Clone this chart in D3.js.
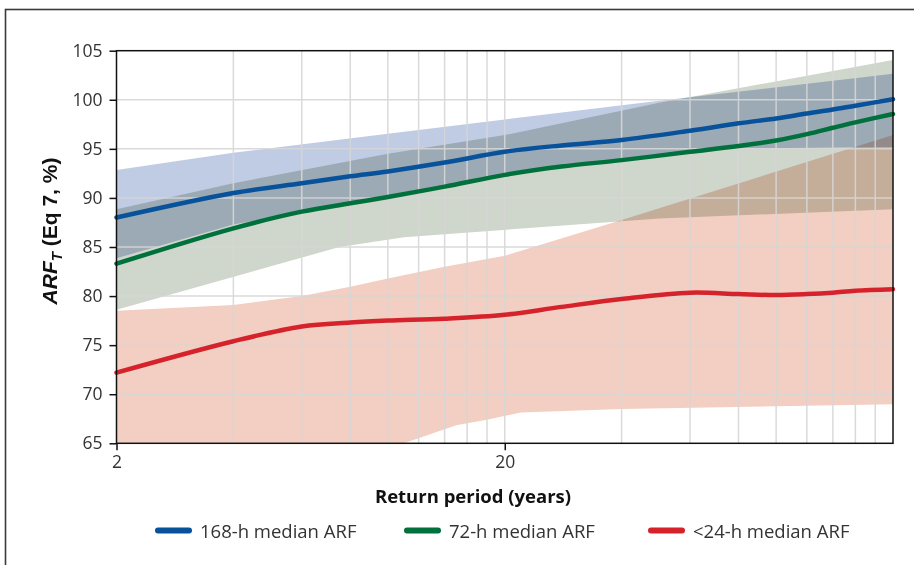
<!DOCTYPE html>
<html>
<head>
<meta charset="utf-8">
<script src="https://cdn.jsdelivr.net/npm/d3@7/dist/d3.min.js"></script>
<style>
  html, body { margin: 0; padding: 0; background: #fff; }
  svg { display: block; }
</style>
</head>
<body>
<svg id="chart" width="914" height="565"></svg>
<script>
// ---------------- DATA ----------------
const returnPeriods = [2, 4, 6, 8, 10, 14, 20, 28, 40, 60, 80, 100, 120, 140, 160, 200];
const median168 = [88.0, 90.5, 91.5, 92.2, 92.7, 93.6, 94.7, 95.35, 95.9, 96.85, 97.6, 98.1, 98.6, 99.0, 99.4, 100.05];
const median72  = [83.3, 86.9, 88.6, 89.45, 90.1, 91.15, 92.35, 93.2, 93.85, 94.7, 95.3, 95.85, 96.5, 97.15, 97.7, 98.55];
const median24  = [72.2, 75.4, 76.9, 77.3, 77.5, 77.7, 78.1, 78.9, 79.7, 80.35, 80.2, 80.1, 80.2, 80.35, 80.55, 80.7];

// uncertainty bands (upper / lower envelopes)
const band168UpperT = [2, 4, 10, 20, 50, 200];
const band168Upper  = [92.85, 94.6, 96.55, 98.0, 99.9, 102.65];
const band168LowerT = [2, 4, 6, 10, 20, 40, 60, 80, 200];
const band168Lower  = [83.85, 87.3, 88.6, 90.1, 92.35, 93.85, 94.75, 95.05, 95.2];

const band72UpperT = [2, 4, 10, 20, 50, 200];
const band72Upper  = [88.85, 91.5, 94.5, 96.4, 99.7, 104.05];
const band72LowerT = [2, 7.5, 11, 50, 200];
const band72Lower  = [78.6, 85.0, 86.0, 87.9, 88.85];

const band24UpperT = [2, 4, 6, 8, 10, 14, 20, 40, 200];
const band24Upper  = [78.5, 79.1, 80.0, 80.95, 81.8, 83.0, 84.1, 87.75, 96.4];
const band24LowerT = [2, 11, 15, 18, 22, 40, 200];
const band24Lower  = [58, 65, 66.85, 67.4, 68.15, 68.5, 68.97];

const yTicks = [65, 70, 75, 80, 85, 90, 95, 100, 105];
const xTicks = [2, 20];
const xGrid = [4, 6, 8, 10, 12, 14, 16, 18, 20, 40, 60, 80, 100, 120, 140, 160, 180];
const yGrid = [70, 75, 80, 85, 90, 95, 100];

const legendLabels = ["168-h median ARF", "72-h median ARF", "<24-h median ARF"];
const xTitle = "Return period (years)";

// ---------------- STYLE ----------------
const colors = { b168: "#07529a", b72: "#00703d", b24: "#d6222b" };
const bandColors = { b168: "#c0cbe4", b72: "#cfd6cb", b24: "#f2cfc2" };

// ---------------- LAYOUT ----------------
const svg = d3.select("#chart");
const L = 116.5, R = 893, T = 50.7, B = 443.3;

const x = d3.scaleLog().domain([2, 200]).range([L, R]);
const y = d3.scaleLinear().domain([65, 105]).range([B, T]);

svg.append("rect").attr("width", 914).attr("height", 565).attr("fill", "#fff");

// outer frame (runs off the right and bottom)
svg.append("rect")
  .attr("x", 5.5).attr("y", 9.5).attr("width", 1000).attr("height", 1000)
  .attr("fill", "none").attr("stroke", "#3a3a3a").attr("stroke-width", 1.6);

svg.append("defs").append("clipPath").attr("id", "plotclip")
  .append("rect").attr("x", L).attr("y", T).attr("width", R - L).attr("height", B - T);

const plot = svg.append("g").attr("clip-path", "url(#plotclip)");
const bandsG = plot.append("g").style("isolation", "isolate");

function bandPoly(upT, up, loT, lo) {
  const pts = upT.map((t, i) => [x(t), y(up[i])]);
  const low = loT.map((t, i) => [x(t), y(lo[i])]).reverse();
  return d3.line()(pts.concat(low)) + "Z";
}

const bands = [
  { key: "b168", d: bandPoly(band168UpperT, band168Upper, band168LowerT, band168Lower) },
  { key: "b72",  d: bandPoly(band72UpperT, band72Upper, band72LowerT, band72Lower) },
  { key: "b24",  d: bandPoly(band24UpperT, band24Upper, band24LowerT, band24Lower) }
];
bandsG.selectAll("path.band").data(bands).join("path")
  .attr("class", "band")
  .attr("d", d => d.d)
  .attr("fill", d => bandColors[d.key])
  .style("mix-blend-mode", "multiply");

// grid
const gridG = plot.append("g").attr("stroke", "#d6d6d6").attr("stroke-width", 1.5).attr("opacity", 0.9);
gridG.selectAll("line.v").data(xGrid).join("line")
  .attr("x1", d => x(d)).attr("x2", d => x(d)).attr("y1", T).attr("y2", B);
gridG.selectAll("line.h").data(yGrid).join("line")
  .attr("y1", d => y(d)).attr("y2", d => y(d)).attr("x1", L).attr("x2", R);

// median lines
const line = d3.line().x(d => x(d[0])).y(d => y(d[1])).curve(d3.curveCatmullRom.alpha(0.5));
const series = [
  { key: "b24", vals: median24 },
  { key: "b72", vals: median72 },
  { key: "b168", vals: median168 }
];
svg.append("g").selectAll("path.med").data(series).join("path")
  .attr("class", "med")
  .attr("d", s => line(returnPeriods.map((t, i) => [t, s.vals[i]])))
  .attr("fill", "none")
  .attr("stroke", s => colors[s.key])
  .attr("stroke-width", 4.5)
  .attr("stroke-linecap", "round")
  .attr("stroke-linejoin", "round");

// plot frame
svg.append("rect").attr("x", L).attr("y", T).attr("width", R - L).attr("height", B - T)
  .attr("fill", "none").attr("stroke", "#111").attr("stroke-width", 1.5);

// axes
const yAxis = svg.append("g").attr("transform", `translate(${L},0)`)
  .call(d3.axisLeft(y).tickValues(yTicks).tickSize(7).tickPadding(7));
const xAxis = svg.append("g").attr("transform", `translate(0,${B})`)
  .call(d3.axisBottom(x).tickValues(xTicks).tickFormat(d3.format("d")).tickSize(7).tickPadding(5));
[yAxis, xAxis].forEach(g => {
  g.select(".domain").remove();
  g.selectAll(".tick line").attr("stroke", "#111").attr("stroke-width", 1.5);
  g.selectAll(".tick text")
    .attr("fill", "#333")
    .style("font-family", "'Open Sans', sans-serif")
    .style("font-size", "17.5px");
});

// x title
svg.append("text")
  .attr("x", 473).attr("y", 503)
  .attr("text-anchor", "middle")
  .style("font-family", "'Open Sans', sans-serif")
  .style("font-weight", "bold")
  .style("font-size", "18.5px")
  .attr("fill", "#111")
  .text(xTitle);

// y title
const yt = svg.append("text")
  .attr("transform", "translate(57,231) rotate(-90)")
  .attr("text-anchor", "middle")
  .style("font-family", "'Liberation Sans', Arial, sans-serif")
  .style("font-weight", "bold")
  .style("font-size", "21px")
  .attr("fill", "#111");
yt.append("tspan").style("font-style", "italic").text("ARF");
yt.append("tspan").style("font-style", "italic").style("font-size", "15px").attr("dy", 5).text("T");
yt.append("tspan").attr("dy", -5).text(" (Eq 7, %)");

// legend
const legendX = [158, 407, 651];
const legendKeys = ["b168", "b72", "b24"];
const lg = svg.append("g");
legendKeys.forEach((k, i) => {
  lg.append("line")
    .attr("x1", legendX[i]).attr("x2", legendX[i] + 31)
    .attr("y1", 530.5).attr("y2", 530.5)
    .attr("stroke", colors[k]).attr("stroke-width", 6).attr("stroke-linecap", "round");
  lg.append("text")
    .attr("x", legendX[i] + 42).attr("y", 537.5)
    .style("font-family", "'Open Sans', sans-serif")
    .style("font-size", "18.5px")
    .attr("fill", "#333")
    .text(legendLabels[i]);
});
</script>
</body>
</html>
